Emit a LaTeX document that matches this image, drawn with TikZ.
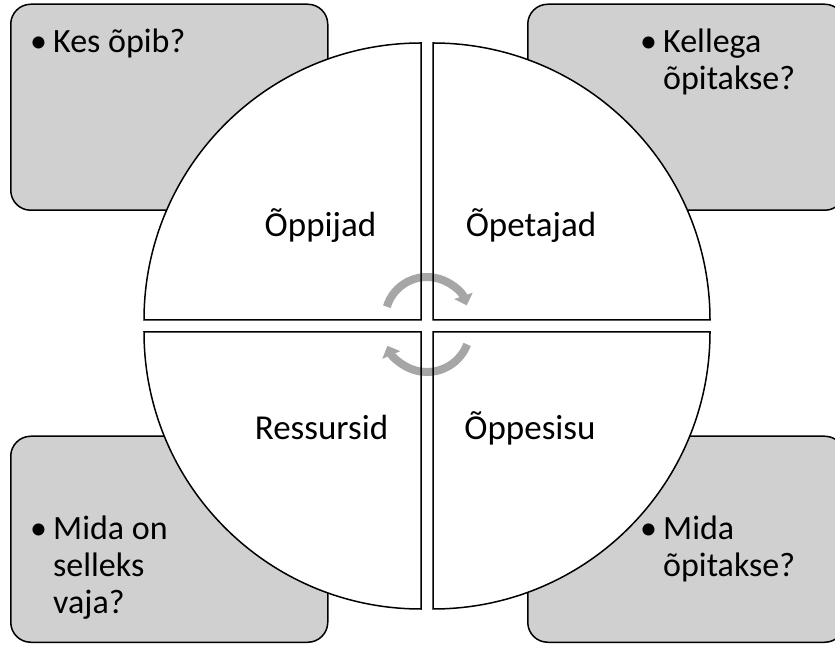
\documentclass[tikz,border=0pt]{standalone}
\usepackage{fontspec}
\setmainfont{Carlito}
\usetikzlibrary{arrows.meta}
\definecolor{boxgray}{RGB}{208,208,208}
\definecolor{arrgray}{RGB}{166,166,166}
\begin{document}
\begin{tikzpicture}[x=1pt,y=1pt,
  qbox/.style={draw=black, line width=1.5pt, fill=boxgray, rounded corners=20pt,
    minimum width=317pt, minimum height=206pt, inner sep=0pt, anchor=south west},
  bullettext/.style={anchor=base west, inner sep=0pt, font=\fontsize{34}{37}\selectfont},
  qlabel/.style={anchor=base, inner sep=0pt, font=\fontsize{35}{40}\selectfont},
  quadline/.style={draw=black, line width=1.5pt},
  cyc/.style={draw=arrgray, line width=8pt, -{Triangle[length=10pt,width=19pt]}}
]
\useasboundingbox (0,0) rectangle (835,645);
% boxes
\node[qbox] (tlbox) at (10,434) {};
\node[qbox] (trbox) at (527,434) {};
\node[qbox] (blbox) at (10,2) {};
\node[qbox] (brbox) at (527,2) {};
% quadrant fills
\fill[white] (421,325) -- (144,325) arc[start angle=180,end angle=90,radius=277] -- cycle;
\fill[white] (433,325) -- (433,602) arc[start angle=90,end angle=0,radius=277] -- cycle;
\fill[white] (433,313) -- (710,313) arc[start angle=0,end angle=-90,radius=277] -- cycle;
\fill[white] (421,313) -- (421,36) arc[start angle=270,end angle=180,radius=277] -- cycle;
% cycle arrows
\draw[cyc] ([shift={(163:42)}]427,326) arc[start angle=163,end angle=19,radius=42];
\draw[cyc] ([shift={(-21:43)}]427,316) arc[start angle=-21,end angle=-157,radius=43];
% quadrant outlines
\draw[quadline] (421,325) -- (144,325) arc[start angle=180,end angle=90,radius=277] -- cycle;
\draw[quadline] (433,325) -- (433,602) arc[start angle=90,end angle=0,radius=277] -- cycle;
\draw[quadline] (433,313) -- (710,313) arc[start angle=0,end angle=-90,radius=277] -- cycle;
\draw[quadline] (421,313) -- (421,36) arc[start angle=270,end angle=180,radius=277] -- cycle;
% quadrant labels
\node[qlabel] (lopp) at (320.5,408) {Õppijad};
\node[qlabel] (lopet) at (531,408) {Õpetajad};
\node[qlabel] (lres) at (321.5,205) {Ressursid};
\node[qlabel] (lsisu) at (530,205) {Õppesisu};
% box texts
\node[bullettext] (ttl) at (30,592) {\begin{tabular}[t]{@{}l@{}l@{}}\makebox[23pt][l]{•}&Kes õpib?\end{tabular}};
\node[bullettext] (ttr) at (640,592) {\begin{tabular}[t]{@{}l@{}l@{}}\makebox[23pt][l]{•}&Kellega\\&õpitakse?\end{tabular}};
\node[bullettext] (tbl) at (30,105) {\begin{tabular}[t]{@{}l@{}l@{}}\makebox[23pt][l]{•}&Mida on\\&selleks\\&vaja?\end{tabular}};
\node[bullettext] (tbr) at (640,105) {\begin{tabular}[t]{@{}l@{}l@{}}\makebox[23pt][l]{•}&Mida\\&õpitakse?\end{tabular}};
\end{tikzpicture}
\end{document}
